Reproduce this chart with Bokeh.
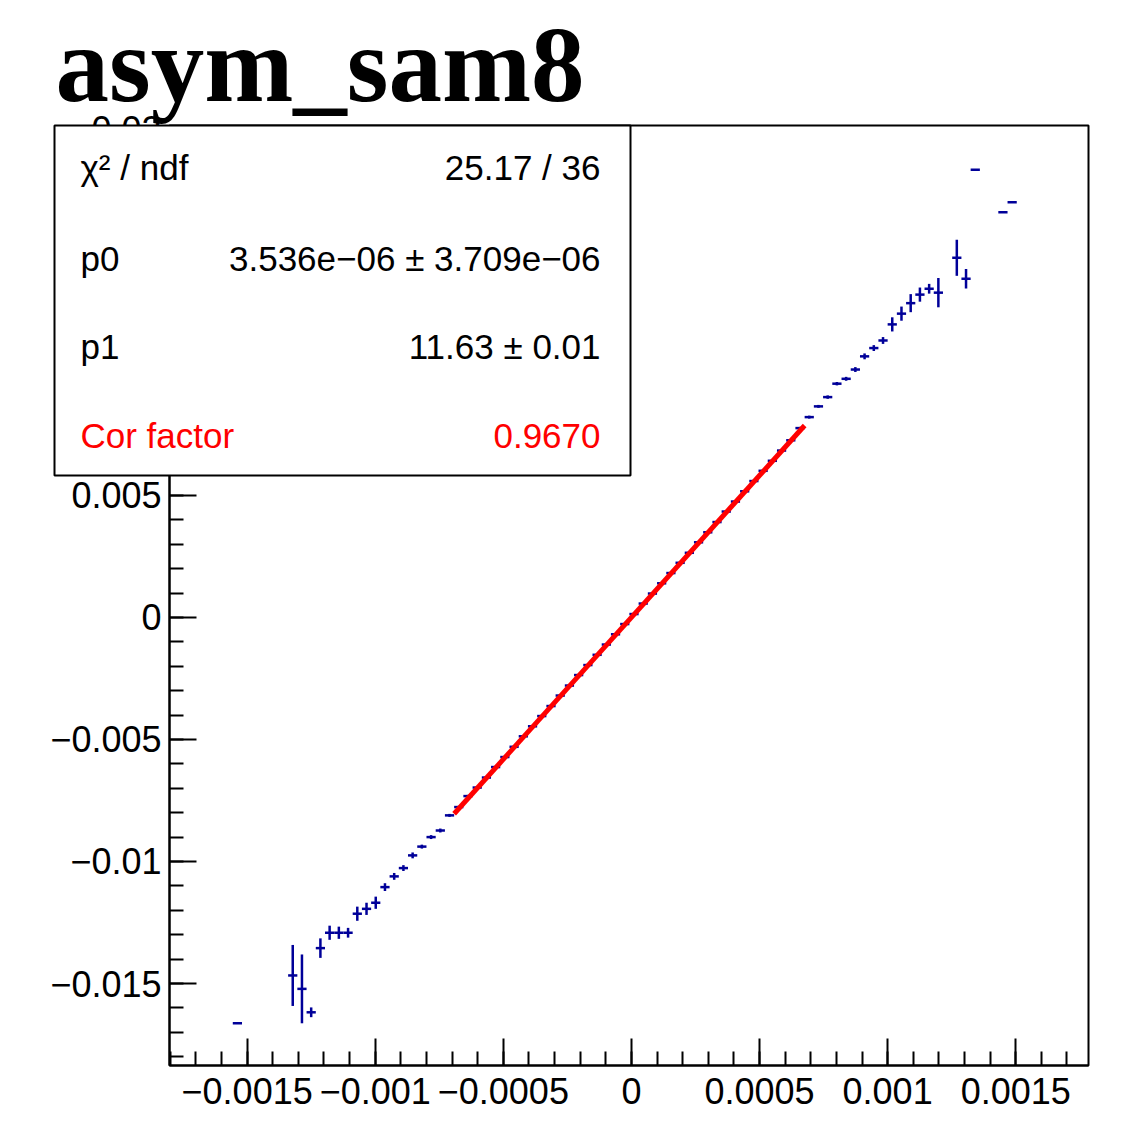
import numpy as np
from bokeh.plotting import figure
from bokeh.models import (FixedTicker, CustomJSTickFormatter, Label, BoxAnnotation,
                          ColumnDataSource, Range1d)
from bokeh.embed import file_html
from bokeh.resources import INLINE

# ---------------- data ----------------
title_text = "asym_sam8"

bin_x = [-0.001538, -0.001322, -0.001286, -0.00125, -0.001214, -0.001178, -0.001142,
         -0.001106, -0.00107, -0.001034, -0.000998, -0.000962, -0.000926, -0.00089,
         -0.000854, -0.000818, -0.000782, -0.000746, -0.00071, -0.000674, -0.000638,
         -0.000602, -0.000566, -0.00053, -0.000494, -0.000458, -0.000422, -0.000386,
         -0.00035, -0.000314, -0.000278, -0.000242, -0.000206, -0.00017, -0.000134,
         -0.000098, -0.000062, -0.000026, 0.00001, 0.000046, 0.000082, 0.000118,
         0.000154, 0.00019, 0.000226, 0.000262, 0.000298, 0.000334, 0.00037, 0.000406,
         0.000442, 0.000478, 0.000514, 0.00055, 0.000586, 0.000622, 0.000658, 0.000694,
         0.00073, 0.000766, 0.000802, 0.000838, 0.000874, 0.00091, 0.000946, 0.000982,
         0.001018, 0.001054, 0.00109, 0.001126, 0.001162, 0.001198, 0.00127, 0.001306,
         0.001342, 0.00145, 0.001486]

bin_y = [-0.01663, -0.01467, -0.01522, -0.01618, -0.01355, -0.01292, -0.01292,
         -0.01292, -0.01214, -0.01194, -0.01169, -0.01105, -0.01061, -0.01027,
         -0.00975, -0.00939, -0.00900, -0.00873, -0.00811, -0.00777, -0.00732,
         -0.00697, -0.00656, -0.00613, -0.00572, -0.00530, -0.00487, -0.00446,
         -0.00404, -0.00363, -0.00320, -0.00279, -0.00236, -0.00195, -0.00153,
         -0.00111, -0.00069, -0.00027, 0.00014, 0.00057, 0.00098, 0.00140,
         0.00182, 0.00224, 0.00265, 0.00308, 0.00349, 0.00391, 0.00434, 0.00475,
         0.00517, 0.00559, 0.00601, 0.00642, 0.00684, 0.00726, 0.00776, 0.00821,
         0.00865, 0.00903, 0.00958, 0.00978, 0.01016, 0.01070, 0.01104, 0.01135,
         0.01201, 0.01245, 0.01288, 0.01323, 0.01347, 0.01331, 0.01474, 0.01388,
         0.01835, 0.01660, 0.01702]

bin_yerr = [0.00002, 0.00125, 0.00141, 0.0002, 0.0004, 0.00029, 0.00025,
            0.0002, 0.00029, 0.00025, 0.00025, 0.00016, 0.00014, 0.00012,
            0.00012, 0.00008, 0.00008, 0.00008, 0.00006, 0.00005, 0.00005,
            0.00004, 0.00004, 0.00004, 0.00004, 0.00004, 0.00004, 0.00004,
            0.00004, 0.00004, 0.00004, 0.00004, 0.00004, 0.00004, 0.00004,
            0.00004, 0.00004, 0.00004, 0.00004, 0.00004, 0.00004, 0.00004,
            0.00004, 0.00004, 0.00004, 0.00004, 0.00004, 0.00004, 0.00004, 0.00004,
            0.00004, 0.00004, 0.00004, 0.00004, 0.00004, 0.00004, 0.00005, 0.00006,
            0.00006, 0.00007, 0.00007, 0.00008, 0.0001, 0.00012, 0.00012, 0.00014,
            0.00029, 0.00029, 0.00037, 0.00029, 0.0002, 0.0006, 0.00074, 0.0004,
            0.00002, 0.00002, 0.00002]

bin_half_width = 0.000018

fit_p0 = 3.536e-06
fit_p1 = 11.63
fit_range = [-0.000692, 0.000676]

stat_labels = ["\u03c7\u00b2 / ndf", "p0", "p1", "Cor factor"]
stat_values = ["25.17 / 36", "3.536e\u221206 \u00b1 3.709e\u221206", "11.63 \u00b1 0.01", "0.9670"]
stat_colors = ["black", "black", "black", "#ff0000"]

x_major = [-0.0015, -0.001, -0.0005, 0.0, 0.0005, 0.001, 0.0015]
x_minor = [round(-0.0018 + 0.0001 * k, 5) for k in range(36)]
y_major = [-0.015, -0.01, -0.005, 0.0, 0.005, 0.01, 0.015, 0.02]
y_minor = [round(-0.018 + 0.001 * k, 3) for k in range(39)]

# axis (data-area) limits
x_lo, x_hi = -0.001803, 0.001784
y_lo, y_hi = -0.01836, 0.02016

# ---------------- layout geometry (pixels) ----------------
W, H = 1120, 1120
FL, FR, FT, FB = 169, 1088, 125, 1065   # data area edges on the canvas

sxp = (x_hi - x_lo) / (FR - FL)
syp = (y_hi - y_lo) / (FB - FT)
xr = Range1d(x_lo - FL * sxp, x_hi + (W - FR) * sxp)
yr = Range1d(y_lo - (H - FB) * syp, y_hi + FT * syp)

p = figure(width=W, height=H, output_backend="svg", toolbar_location=None,
           x_range=xr, y_range=yr, min_border=0)
p.title = None
p.background_fill_color = "white"
p.border_fill_color = "white"
p.outline_line_color = None
p.xgrid.visible = False
p.ygrid.visible = False

fmt = CustomJSTickFormatter(code="""
if (Math.abs(tick) < 1e-12) { return "0"; }
return tick.toString().replace("-", "\\u2212");
""")

for ax, major, minor, loc, bnds, stand in ((p.xaxis[0], x_major, x_minor, y_lo, (x_lo, x_hi), 12),
                                           (p.yaxis[0], y_major, y_minor, x_lo, (y_lo, y_hi), 8)):
    ax.fixed_location = loc
    ax.bounds = bnds
    ax.ticker = FixedTicker(ticks=major, minor_ticks=minor)
    ax.formatter = fmt
    ax.major_tick_in = 27
    ax.major_tick_out = 0
    ax.minor_tick_in = 14
    ax.minor_tick_out = 0
    ax.axis_line_width = 2
    ax.major_tick_line_width = 2
    ax.minor_tick_line_width = 2
    ax.axis_line_color = "black"
    ax.major_tick_line_color = "black"
    ax.minor_tick_line_color = "black"
    ax.major_label_text_font = "Liberation Sans"
    ax.major_label_text_font_size = "36px"
    ax.major_label_text_color = "black"
    ax.major_label_standoff = stand

# data-area frame
p.add_layout(BoxAnnotation(left=x_lo, right=x_hi, bottom=y_lo, top=y_hi,
                           fill_alpha=0, line_color="black", line_width=2, line_alpha=1.0))

bx = np.array(bin_x)
by = np.array(bin_y)
be = np.array(bin_yerr)
src = ColumnDataSource(dict(x=bx, y=by, xl=bx - bin_half_width, xr=bx + bin_half_width,
                            yl=by - be, yh=by + be))
p.segment(x0="xl", y0="y", x1="xr", y1="y", source=src, line_color="#000099", line_width=2.5)
p.segment(x0="x", y0="yl", x1="x", y1="yh", source=src, line_color="#000099", line_width=2.5)

fx = np.array(fit_range)
p.line(fx, fit_p0 + fit_p1 * fx, line_color="#ff0000", line_width=5)

# ---------------- annotations (screen units; frame == canvas) ----------------
def sy(cy):
    return H - cy

box = BoxAnnotation(left=54, right=630, top=sy(125), bottom=sy(475),
                    left_units="screen", right_units="screen",
                    top_units="screen", bottom_units="screen",
                    fill_color="white", fill_alpha=1.0,
                    line_color="black", line_width=2, line_alpha=1.0)
p.add_layout(box)

row_cy = [167, 258, 346, 435]
for lab, val, col, cy in zip(stat_labels, stat_values, stat_colors, row_cy):
    p.add_layout(Label(x=80, y=sy(cy), x_units="screen", y_units="screen", text=lab,
                       text_font="Liberation Sans", text_font_size="35px", text_color=col,
                       text_align="left", text_baseline="middle"))
    p.add_layout(Label(x=600, y=sy(cy), x_units="screen", y_units="screen", text=val,
                       text_font="Liberation Sans", text_font_size="35px", text_color=col,
                       text_align="right", text_baseline="middle"))

p.add_layout(Label(x=55, y=sy(64), x_units="screen", y_units="screen", text=title_text,
                   text_font="Liberation Serif", text_font_size="107px", text_font_style="bold",
                   text_color="black", text_align="left", text_baseline="alphabetic"))

open("out.html", "w").write(file_html(p, INLINE))
